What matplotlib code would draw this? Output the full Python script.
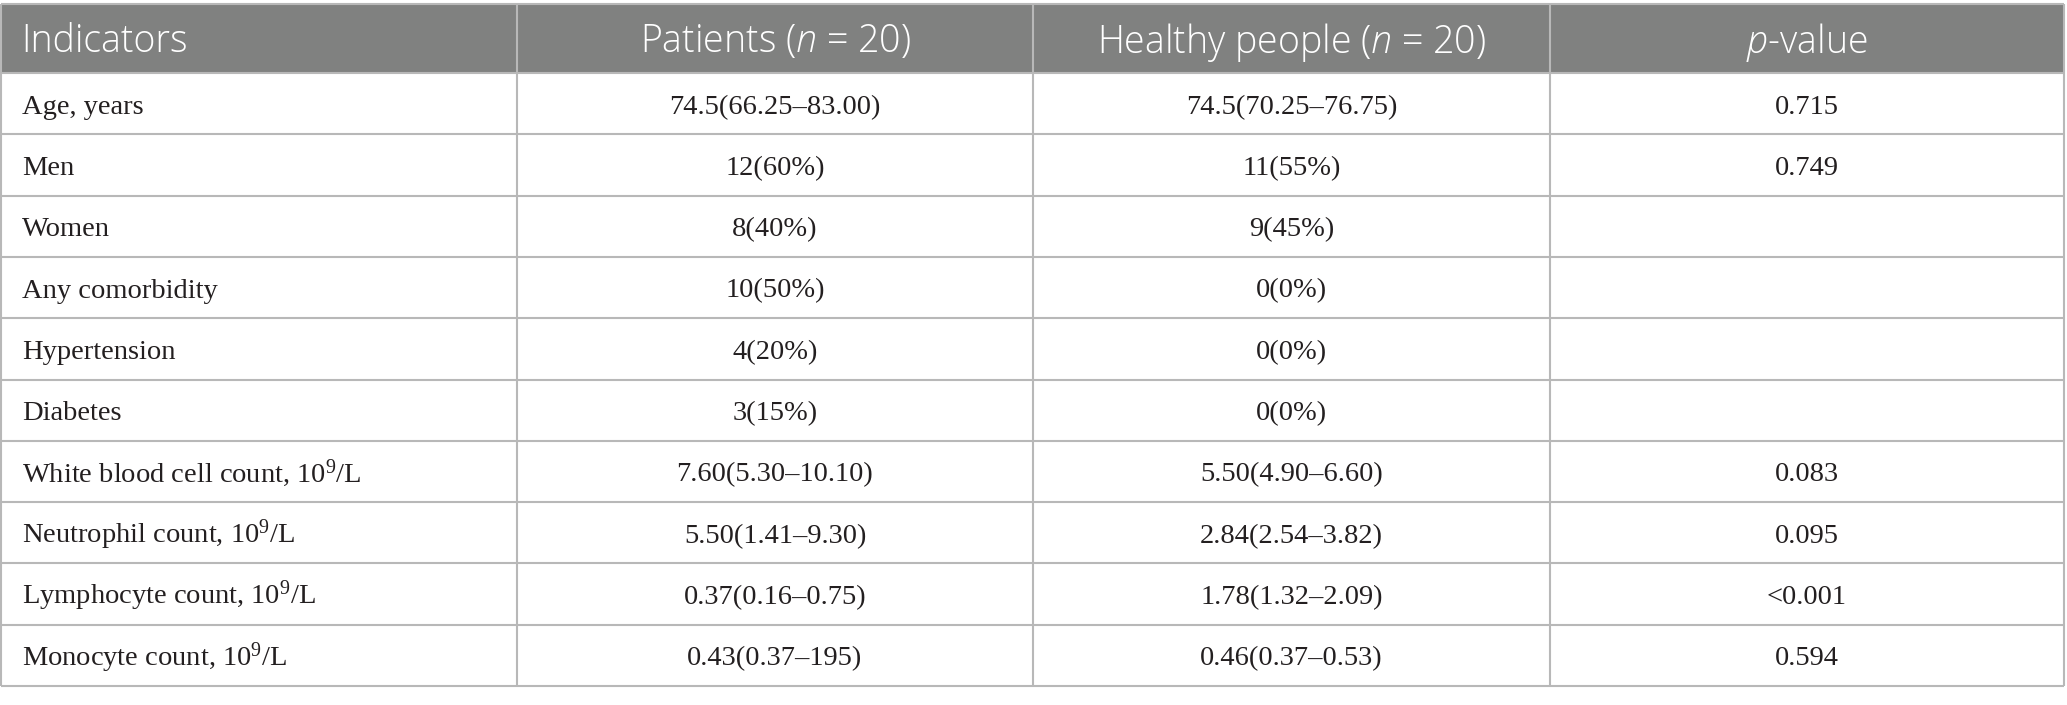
import matplotlib
matplotlib.use("Agg")
import matplotlib.pyplot as plt
from matplotlib.patches import Rectangle

plt.rcParams['mathtext.fontset'] = 'custom'
plt.rcParams['mathtext.it'] = 'Open Sans:italic:light'
plt.rcParams['mathtext.rm'] = 'Liberation Serif'
plt.rcParams['mathtext.default'] = 'regular'

# table content
headers = ["Indicators", "Patients ($\\mathit{n}$ = 20)", "Healthy people ($\\mathit{n}$ = 20)", "$\\mathit{p}$-value"]
indicators = ["Age, years", "Men", "Women", "Any comorbidity", "Hypertension", "Diabetes",
              "White blood cell count, 10$^{9}$/L", "Neutrophil count, 10$^{9}$/L",
              "Lymphocyte count, 10$^{9}$/L", "Monocyte count, 10$^{9}$/L"]
patients = ["74.5(66.25–83.00)", "12(60%)", "8(40%)", "10(50%)", "4(20%)", "3(15%)",
            "7.60(5.30–10.10)", "5.50(1.41–9.30)", "0.37(0.16–0.75)", "0.43(0.37–195)"]
healthy = ["74.5(70.25–76.75)", "11(55%)", "9(45%)", "0(0%)", "0(0%)", "0(0%)",
           "5.50(4.90–6.60)", "2.84(2.54–3.82)", "1.78(1.32–2.09)", "0.46(0.37–0.53)"]
pvalues = ["0.715", "0.749", "", "", "", "", "0.083", "0.095", "<0.001", "0.594"]

W, H = 2067, 705
col_edges = [1, 517, 1033, 1550, 2064]
head_top, head_bot = 4, 73
row_h = 61.3
n_rows = len(indicators)

fig = plt.figure(figsize=(W / 100, H / 100), dpi=100)
ax = fig.add_axes([0, 0, 1, 1])
ax.set_xlim(0, W)
ax.set_ylim(H, 0)
ax.axis('off')

line_col = '#b8b8b8'
head_col = '#808180'

# header band
ax.add_patch(Rectangle((col_edges[0], head_top), col_edges[-1] - col_edges[0], head_bot - head_top,
                       facecolor=head_col, edgecolor='none', zorder=1))

# grid lines
row_lines = [head_top, head_bot] + [head_bot + row_h * (i + 1) for i in range(n_rows)]
bottom = row_lines[-1]
ax.hlines(row_lines, col_edges[0], col_edges[-1], colors=line_col, linewidth=1.5, zorder=2)
ax.vlines(col_edges, head_top, bottom, colors=line_col, linewidth=1.5, zorder=2)

# header text
head_mid = (head_top + head_bot) / 2
for j, h in enumerate(headers):
    if j == 0:
        x, ha = col_edges[0] + 20, 'left'
    else:
        x, ha = (col_edges[j] + col_edges[j + 1]) / 2, 'center'
    ax.text(x, head_mid + 14, h, ha=ha, va='baseline', color='white',
            fontsize=27, family='Open Sans', fontweight='light', zorder=3)

# body text
body_col = '#231f20'
for i in range(n_rows):
    mid = head_bot + row_h * (i + 0.5)
    cells = [indicators[i], patients[i], healthy[i], pvalues[i]]
    for j, c in enumerate(cells):
        if j == 0:
            x, ha = col_edges[0] + 21, 'left'
        else:
            x, ha = (col_edges[j] + col_edges[j + 1]) / 2, 'center'
        ax.text(x, mid + 10, c, ha=ha, va='baseline', color=body_col,
                fontsize=20.5, family='Liberation Serif', zorder=3)

fig.savefig("out.png", dpi=100, facecolor='white')
